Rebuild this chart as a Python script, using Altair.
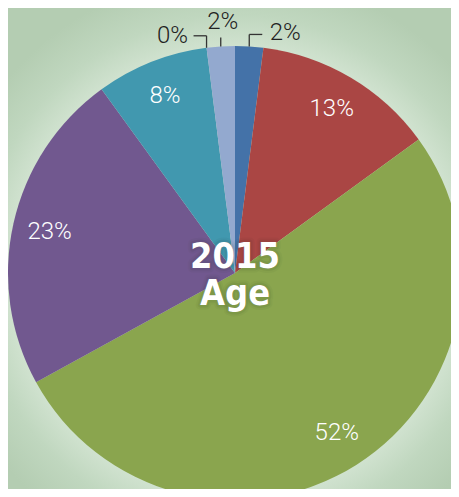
import altair as alt
import pandas as pd

# ---- data ----
groups = ["Group 1", "Group 2", "Group 3", "Group 4", "Group 5", "Group 6", "Group 7"]
shares = [2, 13, 52, 23, 8, 0, 2]
colors = ["#4472a8", "#aa4644", "#8aa54e", "#71588f", "#4198af", "#db843d", "#93a9cf"]
title_lines = ["2015", "Age"]

df = pd.DataFrame({
    "group": groups,
    "value": shares,
    "idx": list(range(len(groups))),
    "label": [f"{v}%" for v in shares],
})

W, H = 443, 481
CX, CY, R = 227, 265, 227
LABEL_R = 190

# background glow
bg = alt.Chart(pd.DataFrame({"a": [0]})).mark_rect(
    fill={
        "gradient": "radial",
        "x1": CX / W, "y1": CY / H, "r1": 0,
        "x2": CX / W, "y2": CY / H, "r2": 300 / max(W, H),
        "stops": [
            {"offset": 0, "color": "#d0e2cf"},
            {"offset": 0.755, "color": "#d0e2cf"},
            {"offset": 0.86, "color": "#c0d7bf"},
            {"offset": 1, "color": "#b4cdb2"},
        ],
    }
).encode(
    x=alt.value(0), x2=alt.value(W), y=alt.value(0), y2=alt.value(H)
)

base = alt.Chart(df)

color_scale = alt.Scale(domain=groups, range=colors)

arcs = base.mark_arc(outerRadius=R).encode(
    theta=alt.Theta("value:Q", stack=True),
    color=alt.Color("group:N", scale=color_scale, legend=None),
    order=alt.Order("idx:Q"),
    x=alt.value(CX),
    y=alt.value(CY),
)

# polar positions computed from cumulative shares
polar = base.transform_joinaggregate(total="sum(value)").transform_window(
    cum="sum(value)", sort=[alt.SortField("idx")], frame=[None, 0]
).transform_calculate(
    mid="(datum.cum - datum.value/2) / datum.total * 2 * PI",
).transform_calculate(
    lx=f"{CX} + {LABEL_R} * sin(datum.mid)",
    ly=f"{CY} - {LABEL_R} * cos(datum.mid)",
    rx=f"{CX} + {R} * sin(datum.mid)",
    ry=f"{CY} - {R} * cos(datum.mid)",
)

label_font = "Roboto"

inside = polar.transform_filter("datum.value >= 5").mark_text(
    font=label_font, fontSize=24, fontWeight=300, color="white",
    align="center", baseline="middle",
).encode(
    x=alt.X("lx:Q", scale=None, axis=None),
    y=alt.Y("ly:Q", scale=None, axis=None),
    text="label:N",
)

def outside(i, elbow, hdir, ldx, ldy):
    sub = polar.transform_filter(f"datum.idx == {i}").transform_calculate(
        ey=f"datum.ry - {elbow}",
        hx=f"datum.rx + {hdir}",
        tx=f"datum.rx + {ldx}",
        ty=f"datum.ry + {ldy}",
    )
    vert = sub.mark_rule(color="#333333", strokeWidth=1.3).encode(
        x=alt.X("rx:Q", scale=None, axis=None),
        y=alt.Y("ry:Q", scale=None, axis=None),
        y2="ey:Q",
    )
    layers = [vert]
    if hdir != 0:
        horiz = sub.mark_rule(color="#333333", strokeWidth=1.3).encode(
            x=alt.X("rx:Q", scale=None, axis=None),
            x2="hx:Q",
            y=alt.Y("ey:Q", scale=None, axis=None),
        )
        layers.append(horiz)
    txt = sub.mark_text(
        font=label_font, fontSize=24, fontWeight=300, color="#222222",
        align="center", baseline="middle",
    ).encode(
        x=alt.X("tx:Q", scale=None, axis=None),
        y=alt.Y("ty:Q", scale=None, axis=None),
        text="label:N",
    )
    layers.append(txt)
    return layers

out_layers = []
out_layers += outside(0, 12, 13, 36, -13)
out_layers += outside(5, 12, -13, -34, -12)
out_layers += outside(6, 9, 0, 2, -24)

# centre title
tdf = pd.DataFrame({"t": title_lines, "line": [0, 1]})
tbase = alt.Chart(tdf).transform_calculate(yy=f"{CY - 5} + datum.line * 37")
center_font = "'Liberation Sans Narrow', 'DejaVu Sans Condensed', 'Roboto Condensed', 'Arial Narrow', sans-serif"

def title_layer(**kw):
    return tbase.mark_text(
        font=center_font, fontSize=36, fontWeight="bold",
        align="center", baseline="alphabetic", **kw
    ).encode(
        x=alt.value(CX),
        y=alt.Y("yy:Q", scale=None, axis=None),
        text="t:N",
    )

shadow1 = title_layer(color="#000000", stroke="#1a2a1a", strokeWidth=9,
                      strokeOpacity=0.12, opacity=0.3, strokeJoin="round")
shadow2 = title_layer(color="#000000", stroke="#1a2a1a", strokeWidth=5,
                      strokeOpacity=0.22, opacity=0.3, strokeJoin="round")
title = title_layer(color="white")

chart = alt.layer(bg, arcs, inside, *out_layers, shadow1, shadow2, title).properties(
    width=W, height=H, padding=0,
    autosize=alt.AutoSizeParams(type="none"),
    background="#b4cdb2",
).configure_view(
    strokeWidth=0,
)

chart.save("out.html", embed_options={"renderer": "svg", "actions": False})
